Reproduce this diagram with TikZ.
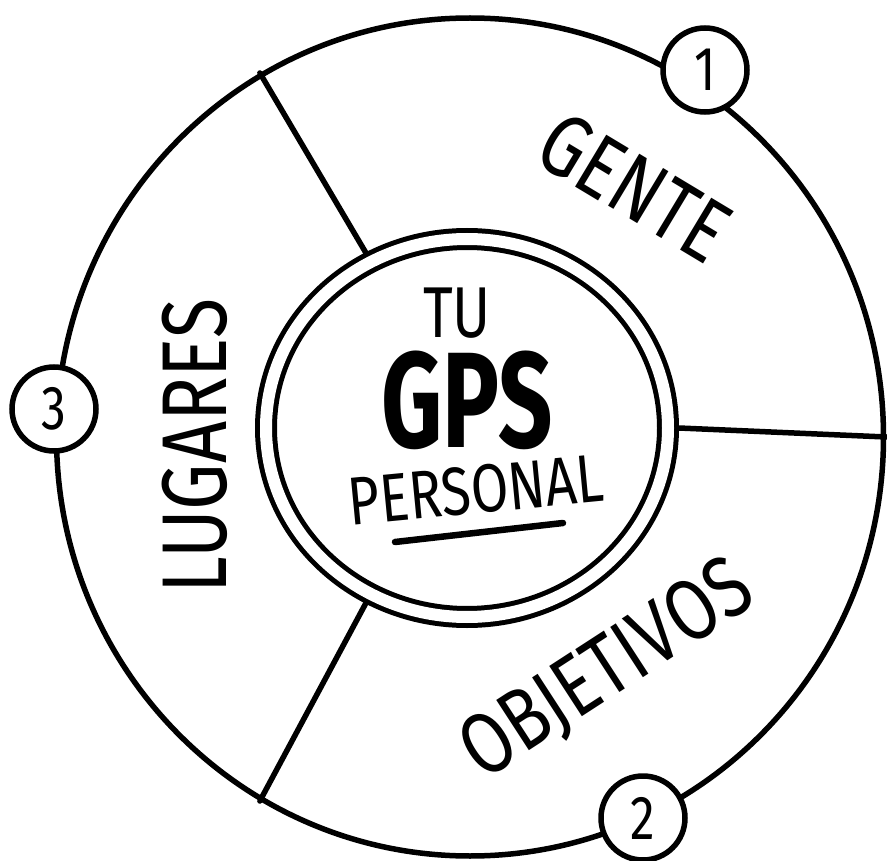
\documentclass[tikz,border=0pt]{standalone}
\usepackage{fontspec}
\setmainfont{Fira Sans}
\newfontfamily\handfont[FakeStretch=0.8]{Fira Sans}
\newfontfamily\gpsfont[FakeStretch=0.7]{Fira Sans Bold}
\usetikzlibrary{shapes.geometric, positioning}

\begin{document}
\begin{tikzpicture}[
    x=1pt, y=-1pt,
    pen/.style={line width=5.5pt, line cap=round},
    ring/.style={ellipse, draw, line width=5.5pt, minimum width=827pt, minimum height=838pt, inner sep=0pt},
    hub/.style={ellipse, draw, line width=5pt, double, double distance=12pt, fill=white,
        minimum width=402pt, minimum height=378pt, inner sep=0pt, outer sep=11pt},
    badge/.style={circle, draw, line width=5.5pt, fill=white, minimum size=84pt, inner sep=0pt,
        font=\handfont\fontsize{62}{62}\selectfont},
    word/.style={inner sep=0pt, text=black}
]
\useasboundingbox (0,0) rectangle (887,861);

% outer ring and centre
\node[ring] (outer) at (470,437) {};
\node[hub] (centre) at (467,428) {};

% the three sectors
\draw[pen] (centre.120) -- (outer.120);
\draw[pen] (centre.0) -- (outer.0);
\draw[pen] (centre.240) -- (outer.240);

% numbered badges on the ring
\node[badge] (one) at (705,70) {1};
\node[badge] (two) at (643,818) {2};
\node[badge] (three) at (54,409) {3};

% centre text
\node[word, font=\handfont\fontsize{72}{72}\selectfont] (tu) at (457,313) {TU};
\node[word, font=\gpsfont\fontsize{136}{136}\selectfont] (gps) at (467,400) {GPS};
\node[word, font=\handfont\fontsize{68}{68}\selectfont, rotate=5.5] (personal) at (476,490) {PERSONAL};
\draw[pen, line width=6.5pt] (395,542) -- (563,523);

% sector labels
\node[word, font=\handfont\fontsize{88}{88}\selectfont, rotate=-31] (gente) at (635,187) {GENTE};
\node[word, font=\handfont\fontsize{87}{87}\selectfont, rotate=33] (objetivos) at (608,671) {OBJETIVOS};
\node[word, font=\handfont\fontsize{92}{92}\selectfont, rotate=90] (lugares) at (195,446) {LUGARES};
\end{tikzpicture}
\end{document}
